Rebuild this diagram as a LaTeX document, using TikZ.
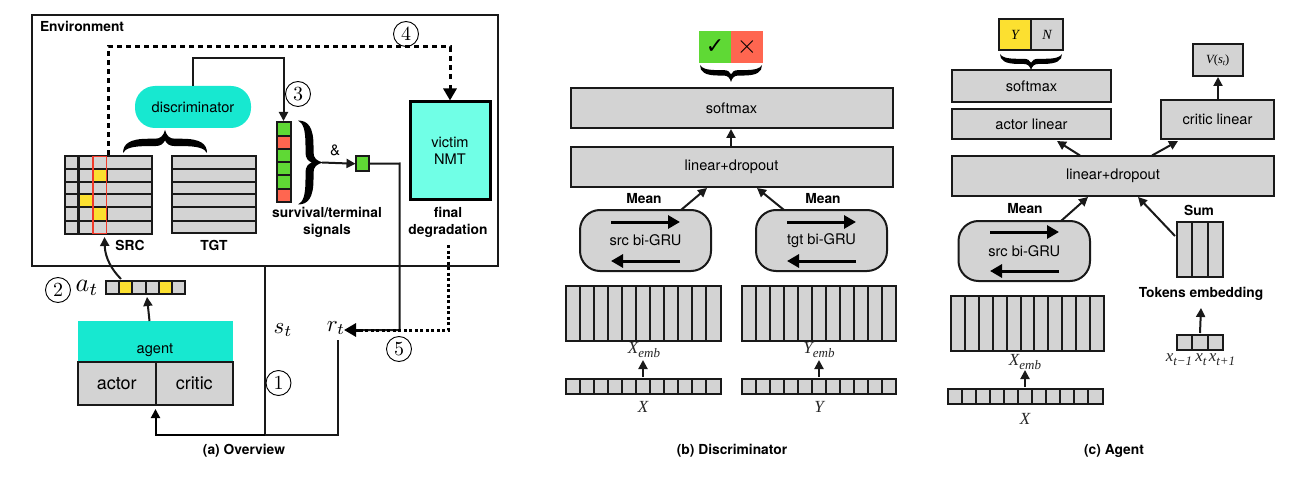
\documentclass[tikz,border=0pt]{standalone}
\usepackage{fontspec}
\setmainfont{TeX Gyre Heros}
\newfontfamily\tms{Liberation Serif}
\newfontfamily\djv{DejaVu Sans}
\usetikzlibrary{arrows.meta,calc}
\definecolor{cgray}{HTML}{D3D3D3}
\definecolor{cteal}{HTML}{17E8D0}
\definecolor{clight}{HTML}{70FFE6}
\definecolor{cyel}{HTML}{FCE030}
\definecolor{cred}{HTML}{FF6650}
\definecolor{cgreen}{HTML}{5FD935}
\definecolor{cedge}{HTML}{F03A2A}
\tikzset{
  x=1pt,y=-1pt,
  base/.style={inner sep=0pt,outer sep=0pt,align=center,font=\fontsize{14.6}{17}\selectfont},
  blbl/.style={base,font=\fontsize{13.8}{17}\selectfont\bfseries},
  line/.style={line width=2pt,black!90},
  arr/.style={line,-{Triangle[length=9pt,width=9pt]}},
  bigarr/.style={line width=3pt,black,-{Triangle[length=12pt,width=13pt]}},
  mlbl/.style={inner sep=0pt,outer sep=0pt,font=\fontsize{17}{19}\selectfont\tms\itshape,text=black!85},
  num/.style={circle,draw,line width=.9pt,inner sep=0pt,minimum size=25pt},
}
\newcommand\mybox[7][]{% style, name, x0,y0,x1,y1, text
  \node[base,rectangle,minimum width={#5-#3},minimum height={#6-#4},#1] (#2) at ({(#3+#5)/2},{(#4+#6)/2}) {#7};}
\newcommand\gbox[6]{\mybox[draw=black!90,line width=2pt,fill=cgray]{#1}{#2}{#3}{#4}{#5}{\raisebox{-1pt}{#6}}}
\newcommand\strip[6]{% name x0 y0 x1 y1 n : vertical divisions
  \gbox{#1}{#2}{#3}{#4}{#5}{}
  \pgfmathtruncatemacro\nm{#6-1}
  \foreach \i in {1,...,\nm} \draw[line] ({#2+\i*(#4-#2)/#6},#3) -- ({#2+\i*(#4-#2)/#6},#5);}
\newcommand\ccell[5]{\draw[line,fill=#5] (#1,#2) rectangle (#3,#4);}
% curly brace: origin at the middle of its two ends, width, depth, rotation
\newcommand\cbrace[5]{\begin{scope}[shift={(#1,#2)},x=#3pt,y=-#4pt,rotate=#5]
  \fill[black] (-.5,0) .. controls (-.5,.4) and (-.42,.62) .. (-.2,.62) -- (-.12,.62)
    .. controls (-.05,.62) and (-.02,.75) .. (0,1) .. controls (.02,.75) and (.05,.62) .. (.12,.62)
    -- (.2,.62) .. controls (.42,.62) and (.5,.4) .. (.5,0)
    .. controls (.47,.2) and (.4,.3) .. (.2,.3) -- (.12,.3)
    .. controls (.05,.3) and (.02,.4) .. (0,.55) .. controls (-.02,.4) and (-.05,.3) .. (-.12,.3)
    -- (-.2,.3) .. controls (-.4,.3) and (-.47,.2) .. (-.5,0) -- cycle;
\end{scope}}
\newcommand\sublbl[2]{#1\raisebox{-4pt}{\fontsize{13}{13}\selectfont #2}}
\newcommand\dig[1]{\scalebox{2}{$#1$}}
\begin{document}
\begin{tikzpicture}
\fill[white] (0,0) rectangle (1303,497);
\useasboundingbox (0,0) rectangle (1303,497);

% ---------- (a) Overview
\mybox[draw=black!90,line width=1.6pt]{env}{32}{15}{498}{266}{}
\node[blbl,anchor=west] (envt) at (40,26) {Environment};

% SRC matrix
\gbox{src}{65}{156.5}{151.5}{233.5}{}
\ccell{93}{169.5}{106.5}{182}{cyel}
\ccell{93}{207.5}{106.5}{220.5}{cyel}
\ccell{79}{194.5}{92.5}{207.5}{cyel}
\foreach \yy in {169.5,182,194.5,207.5,220.5} \draw[line] (65,\yy) -- (151.5,\yy);
\draw[line,line width=2.6pt] (78.7,156.5) -- (78.7,233.5);
\draw[line] (92.7,156.5) -- (92.7,233.5);
\draw[cedge,line width=1.8pt] (93,156.5) rectangle (106.5,233.5);
\coordinate (srctop) at (108,156);
\coordinate (srcbot) at (104.5,237);
% TGT matrix
\gbox{tgt}{171.5}{156.5}{255.5}{233}{}
\foreach \yy in {169.5,182,194.5,207.5,220.5} \draw[line] (171.5,\yy) -- (255.5,\yy);
\node[blbl] (srcl) at (130,245) {SRC};
\node[blbl] (tgtl) at (214,245) {TGT};

\cbrace{165}{153}{84}{23}{180}
\mybox[fill=cteal,rounded corners=20pt]{disc}{135}{86}{251}{128}{discriminator}
% signals vector
\gbox{sig}{276.5}{122.5}{290.5}{202}{}
\foreach \k/\cc in {0/cgreen,1/cred,2/cgreen,3/cgreen,4/cgreen,5/cred}
  \ccell{276.5}{{122.5+\k*13.25}}{290.5}{{122.5+(\k+1)*13.25}}{\cc}
\coordinate (sigtop) at (283.5,121);
\coordinate (discout) at (193,86);
\draw[arr] (discout) -- (193,58) -- (283.5,58) -- (sigtop);
\node[num] (n3) at (298,94) {\dig3};
\cbrace{298}{162.5}{84}{25}{90}
\coordinate (bsigtip) at (322,162.5);
\node[inner sep=0pt] (amp) at (335,150.5) {\scalebox{1.5}{$\&$}};
\mybox[draw=black!90,line width=2pt,fill=cgreen]{sq}{355.5}{156.5}{369}{171}{}
\draw[arr] (bsigtip) -- (sq.west);
\node[blbl] (sigl) at (327,222) {survival/terminal\\signals};
\mybox[draw=black,line width=3pt,fill=clight]{vic}{410}{102}{490}{199.5}{victim\\NMT}
\node[blbl] (fin) at (448,222) {final\\degradation};
\coordinate (vtop) at (450,100.5);
\coordinate (dashs) at (108,155);
\draw[line width=3pt,black,dash pattern=on 5pt off 4pt] (dashs) -- (108,47) -- (450,47) -- (450,82);
\draw[line width=3pt,black,-{Triangle[length=12pt,width=13pt]}] (450,85) -- (vtop);
\node[num] (n4) at (406,34) {\dig4};

% action vector
\strip{act}{106}{281}{185}{294}{6}
\ccell{119.2}{281}{132.3}{294}{cyel}
\ccell{158.7}{281}{171.8}{294}{cyel}
\draw[arr] (121,279) .. controls (112,270) and (105,258) .. (srcbot);
\node[num] (n2) at (58,290) {\dig2};
\node[scale=2.6,inner sep=0pt] (at) at (87,288) {$a_t$};
% agent
\mybox[fill=cteal]{agent}{78}{321}{233}{362}{}
\node[base] (agentl) at (155,350) {agent};
\gbox{actor}{78}{362}{155.5}{404.5}{\fontsize{18}{18}\selectfont actor}
\gbox{critic}{155.5}{362}{233}{404.5}{\fontsize{18}{18}\selectfont critic}
\draw[arr] (149.5,321) -- (147,297);
\coordinate (stlo) at (265,435);
\coordinate (rtlo) at (337.5,340);
\draw[line] (265,266) -- (stlo);
\draw[line] (rtlo) -- (337.5,435) -- (stlo);
\draw[line width=2pt,black,-{Triangle[length=9pt,width=9pt]}] (stlo) -- (155.5,435) -- (155.5,409);
\node[scale=2.3,inner sep=0pt] (st) at (283,330) {$s_t$};
\node[scale=2.3,inner sep=0pt] (rt) at (336,328) {$r_t$};
\coordinate (rtin) at (344,330);
\draw[line] (sq.east) ++(1,0) -- (399.5,163.5) -- (399.5,330) -- (360,330);
\draw[line width=3pt,black,dash pattern=on 3pt off 2.5pt] (448,245) -- (448,330) -- (360,330);
\draw[line width=3pt,black,-{Triangle[length=12pt,width=13pt]}] (362,330) -- (rtin);
\node[num] (n5) at (399,349) {\dig5};
\node[num] (n1) at (278.5,383) {\dig1};
\node[blbl] (capa) at (244,451) {(a) Overview};

% ---------- (b) Discriminator
\mybox[fill=cgreen]{ok}{699}{31}{731}{63}{\fontsize{22}{22}\selectfont\djv ✓}
\mybox[fill=cred]{no}{731}{31}{763}{63}{\scalebox{1.8}{$\times$}}
\cbrace{731}{65}{62}{17}{0}
\gbox{bsm}{570.5}{88}{892.5}{128}{softmax}
\gbox{bld}{570.5}{147}{892.5}{187}{linear+dropout}
\draw[arr] (731,147) -- (731,129);
\node[blbl] (bm1) at (644,199) {Mean};
\node[blbl] (bm2) at (823,199) {Mean};
\mybox[draw=black!90,line width=2pt,fill=cgray,rounded corners=20pt]{bsrc}{580}{210}{711}{271}{src bi-GRU}
\mybox[draw=black!90,line width=2pt,fill=cgray,rounded corners=20pt]{btgt}{756}{210}{887}{271}{tgt bi-GRU}
\draw[arr] (681,210) -- (707,188);
\draw[arr] (784,210) -- (757,188);
\draw[bigarr] (611,222) -- (680,222);
\draw[bigarr] (680,261) -- (611,261);
\draw[bigarr] (787,222) -- (856,222);
\draw[bigarr] (856,261) -- (787,261);
\strip{bxe}{565.5}{285.5}{720.5}{341}{11}
\strip{bye}{742}{285.5}{896}{341}{11}
\strip{bx}{565.5}{379}{720.5}{394}{11}
\strip{by}{742}{379}{896}{394}{11}
\node[mlbl] (xel) at (644,350) {\sublbl{X}{emb}};
\node[mlbl] (yel) at (819,350) {\sublbl{Y}{emb}};
\node[mlbl] (xl) at (643,407) {X};
\node[mlbl] (yl) at (819,407) {Y};
\draw[arr] (643,377) -- (643,360);
\draw[arr] (819,377) -- (819,360);
\node[blbl] (capb) at (732,451) {(b) Discriminator};

% ---------- (c) Agent
\mybox[draw=black!90,line width=2pt,fill=cyel]{yy}{999}{19}{1031}{50}{\fontsize{14}{14}\selectfont\tms\itshape Y}
\mybox[draw=black!90,line width=2pt,fill=cgray]{nn}{1031}{19}{1063}{50}{\fontsize{14}{14}\selectfont\tms\itshape N}
\cbrace{1031}{54}{62}{16}{0}
\gbox{csm}{952}{70}{1111}{102}{softmax}
\gbox{cal}{952}{109}{1111}{139}{actor linear}
\gbox{ccl}{1161}{100}{1274}{139}{critic linear}
\gbox{cv}{1192.5}{44}{1243}{76}{\fontsize{12.5}{14}\selectfont\tms\itshape V\upshape(\itshape s\raisebox{-2pt}{\fontsize{8}{8}\selectfont t}\upshape)}
\draw[arr] (1218,100) -- (1218,77);
\gbox{cld}{952}{156}{1274}{196}{linear+dropout}
\draw[arr] (1080,155.5) -- (1057,141);
\draw[arr] (1152,155.5) -- (1178,141);
\node[blbl] (cmean) at (1025,209) {Mean};
\node[blbl] (csum) at (1199,210) {Sum};
\mybox[draw=black!90,line width=2pt,fill=cgray,rounded corners=20pt]{csrc}{958.5}{221}{1090}{281}{src bi-GRU}
\draw[bigarr] (990,232) -- (1059,232);
\draw[bigarr] (1059,271) -- (990,271);
\draw[arr] (1061,221) -- (1088,197);
\strip{cse}{1177}{222}{1223}{277}{3}
\draw[arr] (1175,236) -- (1138,197);
\node[blbl] (ctok) at (1201,294) {Tokens embedding};
\strip{cst}{1177}{335}{1223}{350}{3}
\draw[arr] (1200,333) -- (1201,308);
\node[mlbl] (x1) at (1179,360) {\sublbl{x}{t−1}};
\node[mlbl] (x2) at (1201,360) {\sublbl{x}{t}};
\node[mlbl] (x3) at (1222,360) {\sublbl{x}{t+1}};
\strip{cxe}{951}{296}{1104}{351}{11}
\strip{cx}{947.5}{389}{1102.5}{404}{11}
\node[mlbl] (cxel) at (1025,362) {\sublbl{X}{emb}};
\draw[arr] (1025,387) -- (1025,370);
\node[mlbl] (cxl) at (1025,419) {X};
\node[blbl] (capc) at (1114,451) {(c) Agent};
\end{tikzpicture}
\end{document}
